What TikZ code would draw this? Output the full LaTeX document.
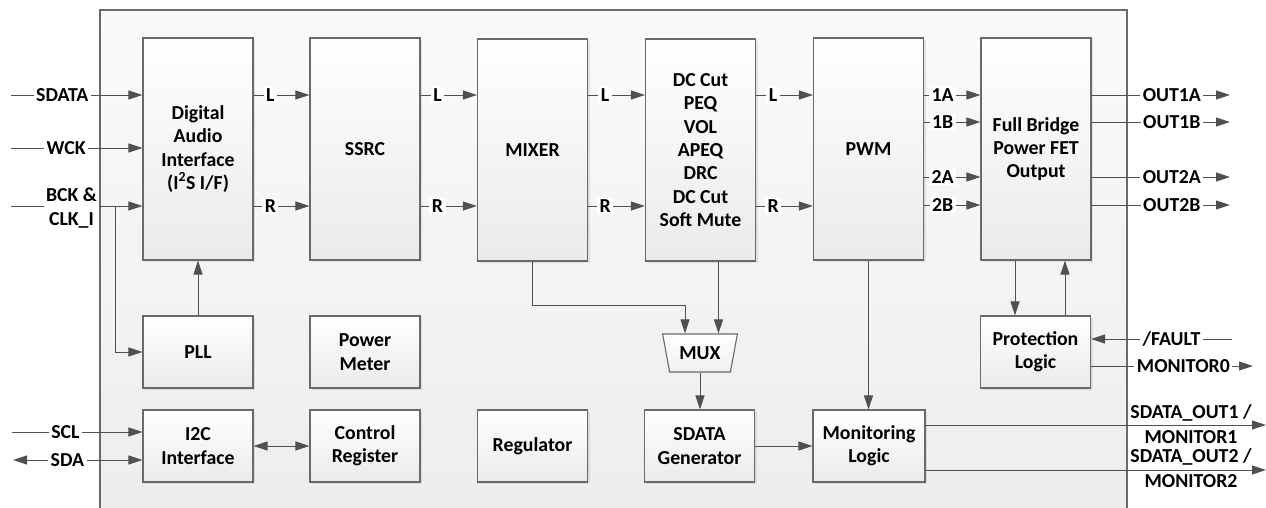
\documentclass[tikz,border=0pt]{standalone}
\usepackage{fontspec}
\setmainfont{Carlito}
\usetikzlibrary{arrows.meta,shapes.geometric,shadows,calc}
\definecolor{ln}{HTML}{505050}
\definecolor{bd}{HTML}{6A6A6A}
\begin{document}
\begin{tikzpicture}[x=1pt,y=-1pt,
  font=\fontsize{19.8pt}{23.3pt}\selectfont\bfseries,
  blk/.style={draw=bd, line width=1.1pt, top color=white, bottom color=black!8,
    minimum width=110pt, align=center, inner sep=0pt,
    drop shadow={opacity=0.18, shadow xshift=2pt, shadow yshift=-2pt}},
  tall/.style={blk, minimum height=222pt},
  short/.style={blk, minimum height=72pt},
  arr/.style={draw=ln, line width=1pt, -{Triangle[length=14pt,width=9pt]}},
  darr/.style={draw=ln, line width=1pt, {Triangle[length=14pt,width=9pt]}-{Triangle[length=14pt,width=9pt]}},
  lbl/.style={fill=white, inner xsep=2.5pt, inner ysep=1.5pt, text=black},
  plain/.style={inner sep=0pt, text=black}]
\useasboundingbox (0,0) rectangle (1266,507);
% chip outline
\node[draw=bd, line width=1.3pt, top color=black!2, bottom color=black!7,
  minimum width=1027pt, minimum height=510pt, inner sep=0pt] (chip) at (613.5,265) {};
% main chain
\node[tall] (dai) at (198,149) {Digital\\Audio\\Interface\\(I\textsuperscript{2}S I/F)};
\node[tall] (ssrc) at (365,149) {SSRC};
\node[tall] (mixer) at (532.5,150) {MIXER};
\node[tall] (dsp) at (700.5,150) {DC Cut\\PEQ\\VOL\\APEQ\\DRC\\DC Cut\\Soft Mute};
\node[tall] (pwm) at (868.5,149) {PWM};
\node[tall] (fb) at (1036,149) {Full Bridge\\Power FET\\Output};
% lower rows
\node[short] (pll) at (198,352) {PLL};
\node[short] (pm) at (365,352) {Power\\Meter};
\node[short] (prot) at (1035.5,352) {Protection\\Logic};
\node[short] (i2c) at (198,446) {I2C\\Interface};
\node[short] (creg) at (365,446) {Control\\Register};
\node[short] (reg) at (532.5,446) {Regulator};
\node[short] (sgen) at (699.5,446) {SDATA\\Generator};
\node[short, minimum width=112pt] (mon) at (869,446) {Monitoring\\Logic};
\node[trapezium, trapezium stretches=true, shape border rotate=180,
  trapezium left angle=70, trapezium right angle=70,
  draw=bd, line width=1.1pt, top color=white, bottom color=black!6,
  minimum width=75pt, minimum height=38pt, inner sep=0pt] (mux) at (700,353) {MUX};
% inputs
\coordinate (sdatain) at (11,95);
\coordinate (wckin) at (11,148);
\coordinate (bckin) at (11,206);
\coordinate (bckj) at (115,206);
\coordinate (sclin) at (12,432);
\coordinate (sdaout) at (13,460);
\draw[arr] (sdatain) -- node[lbl,pos=.39]{SDATA} (dai.west |- sdatain);
\draw[arr] (wckin) -- node[lbl,pos=.42]{WCK} (dai.west |- wckin);
\draw[arr] (bckin) -- node[lbl,pos=.46,align=center,yshift=-2pt]{BCK \&\\CLK\_I} (dai.west |- bckin);
\draw[arr] (bckj) |- (pll.west);
\draw[arr] (pll.north) -- (dai.south);
\draw[arr] (sclin) -- node[lbl,pos=.41]{SCL} (i2c.west |- sclin);
\draw[darr] (sdaout) -- node[lbl,pos=.42]{SDA} (i2c.west |- sdaout);
\draw[darr] (i2c.east) -- (creg.west);
% L / R
\foreach \a/\b in {dai/ssrc, ssrc/mixer, mixer/dsp, dsp/pwm} {
  \draw[arr] (\a.east |- 0,95) -- node[lbl,pos=.3]{L} (\b.west |- 0,95);
  \draw[arr] (\a.east |- 0,206) -- node[lbl,pos=.3]{R} (\b.west |- 0,206);
}
\foreach \yy/\lab in {95/1A,122/1B,177/2A,205/2B}
  \draw[arr] (pwm.east |- 0,\yy) -- node[lbl,pos=.33]{\lab} (fb.west |- 0,\yy);
\foreach \yy/\lab in {95/OUT1A,122/OUT1B,177/OUT2A,205/OUT2B} {
  \coordinate (o\lab) at (1230,\yy);
  \draw[arr] (fb.east |- 0,\yy) -- node[lbl,pos=.58]{\lab} (o\lab);
}
% mux paths
\draw[arr] (mixer.south) -- ++(0,44) -| ([xshift=-15pt]mux.90);
\draw[arr] ([xshift=18pt]dsp.south) -- ([xshift=18pt]dsp.south |- mux.90);
\draw[arr] (mux.270) -- (mux.270 |- sgen.north);
\draw[arr] (sgen.east) -- (mon.west);
\draw[arr] (pwm.south) -- (pwm.south |- mon.north);
% protection
\draw[arr] ([xshift=-21pt]fb.south) -- ([xshift=-21pt]fb.south |- prot.north);
\draw[arr] ([xshift=29.5pt]prot.north) -- ([xshift=29.5pt]prot.north |- fb.south);
\coordinate (faultin) at (1232,339);
\coordinate (mon0) at (1253,366);
\draw[arr] (faultin) -- node[lbl,pos=.43]{/FAULT} (prot.east |- faultin);
\draw[arr] (prot.east |- mon0) -- node[lbl,pos=.57]{MONITOR0} (mon0);
% monitoring outputs
\coordinate (so1) at (1266,425);
\coordinate (so2) at (1266,470);
\draw[arr] (mon.east |- so1) -- (so1);
\draw[arr] (mon.east |- so2) -- (so2);
\node[plain] (t1a) at (1191,413) {SDATA\_OUT1 /};
\node[plain] (t1b) at (1191,437) {MONITOR1};
\node[plain] (t2a) at (1191,457) {SDATA\_OUT2 /};
\node[plain] (t2b) at (1191,481) {MONITOR2};
\end{tikzpicture}
\end{document}
